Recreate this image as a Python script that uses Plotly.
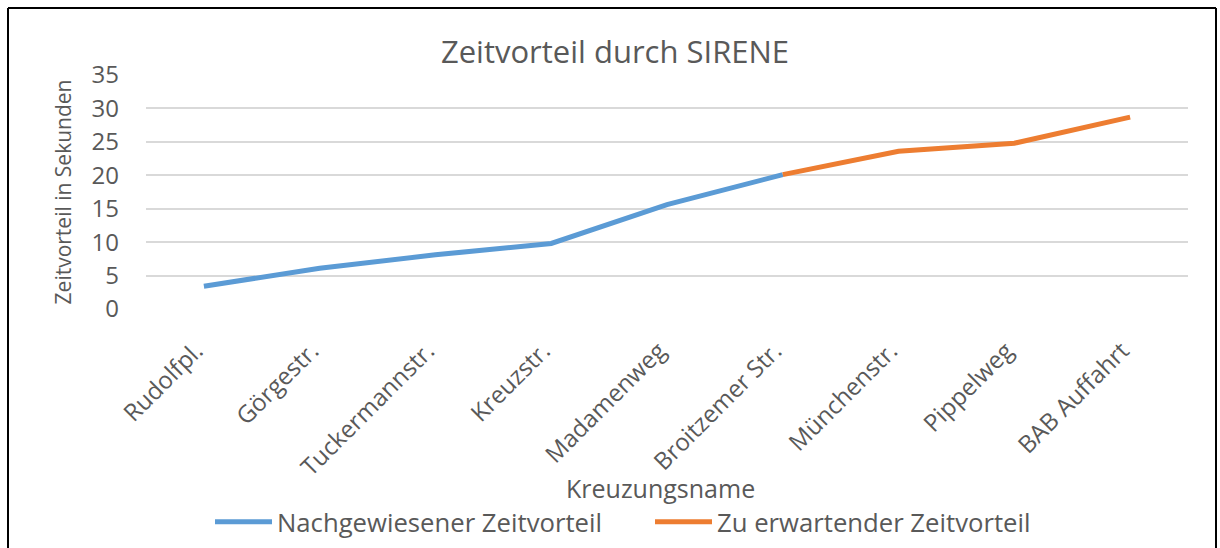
import plotly.graph_objects as go

categories = ["Rudolfpl.", "Görgestr.", "Tuckermannstr.", "Kreuzstr.", "Madamenweg",
              "Broitzemer Str.", "Münchenstr.", "Pippelweg", "BAB Auffahrt"]
nachgewiesen = [3.4, 6.1, 8.1, 9.8, 15.6, 20.1, None, None, None]
zu_erwarten = [None, None, None, None, None, 20.1, 23.6, 24.8, 28.7]
y_ticks = [0, 5, 10, 15, 20, 25, 30, 35]
x_title = "Kreuzungsname"

FONT = "Open Sans"
TXT = "#595959"

fig = go.Figure()
fig.add_trace(go.Scatter(x=categories, y=nachgewiesen, mode="lines",
                         name="Nachgewiesener Zeitvorteil",
                         line=dict(color="#5B9BD5", width=5)))
fig.add_trace(go.Scatter(x=categories, y=zu_erwarten, mode="lines",
                         name="Zu erwartender Zeitvorteil",
                         line=dict(color="#ED7D31", width=5)))

L, R, T, B = 146, 32, 75, 239
W, H = 1220, 548
pw = W - L - R
ph = H - T - B

def px2x(px):
    return (px - L) / pw

def py2y(py):
    return (H - B - py) / ph

fig.update_layout(
    width=W, height=H,
    margin=dict(l=L, r=R, t=T, b=B, autoexpand=False),
    paper_bgcolor="white", plot_bgcolor="white",
    font=dict(family=FONT, color=TXT, size=24),
    title=dict(text="Zeitvorteil durch SIRENE", x=615 / W, xanchor="center",
               y=1 - 52 / H, yanchor="middle", yref="container",
               font=dict(family=FONT, size=31, color=TXT)),
    showlegend=True,
    legend=dict(orientation="h", x=px2x(210), xanchor="left",
                y=py2y(522), yanchor="middle",
                font=dict(family=FONT, size=25.7, color=TXT),
                bgcolor="rgba(0,0,0,0)", itemwidth=57, entrywidth=368,
                tracegroupgap=0),
    xaxis=dict(type="category", categoryorder="array", categoryarray=categories,
               range=[-0.5, 8.5], showgrid=False, zeroline=False,
               showline=False, tickangle=-45, ticks="", automargin=False,
               tickfont=dict(family=FONT, size=24, color=TXT),
               ticklabelstandoff=22, ticklabelshift=-8),
    yaxis=dict(range=[0, 35], tickvals=y_ticks, showgrid=True,
               gridcolor="#D9D9D9", gridwidth=1.5, zeroline=False,
               showline=False, ticks="", ticklabelstandoff=26, automargin=False,
               tickfont=dict(family=FONT, size=24, color=TXT),
               title=dict(text="Zeitvorteil in Sekunden", standoff=14,
                          font=dict(family=FONT, size=21, color=TXT))),
)

# x-axis title placed as annotation for exact position
fig.add_annotation(text=x_title, xref="paper", yref="paper",
                   x=px2x(660), y=py2y(488), xanchor="center", yanchor="middle",
                   showarrow=False, font=dict(family=FONT, size=25, color=TXT))

# outer chart border
x0, x1 = px2x(8), px2x(1216)
y0, y1 = py2y(600), py2y(8)
for (a, b, c, d) in [(x0, y1, x1, y1), (x0, y0, x0, y1), (x1, y0, x1, y1)]:
    fig.add_shape(type="line", xref="paper", yref="paper", x0=a, y0=b, x1=c, y1=d,
                  line=dict(color="black", width=2), layer="above")

fig.write_html("out.html", config={"displayModeBar": False},
               post_script="document.body.style.margin='0';")
